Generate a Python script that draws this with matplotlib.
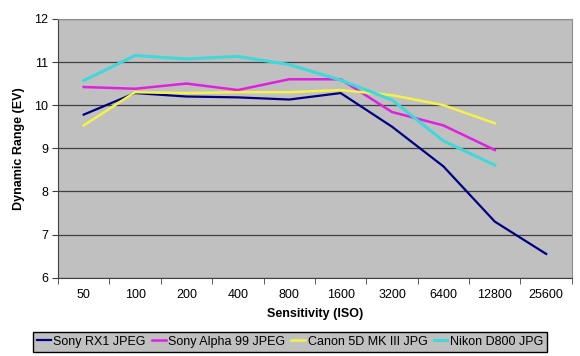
import numpy as np
import matplotlib
matplotlib.use("Agg")
import matplotlib.pyplot as plt

plt.rcParams["font.family"] = ["Liberation Sans", "DejaVu Sans"]

ISO = ["50", "100", "200", "400", "800", "1600", "3200", "6400", "12800", "25600"]
SERIES = ["Sony RX1 JPEG", "Sony Alpha 99 JPEG", "Canon 5D MK III JPG", "Nikon D800 JPG"]
rx1     = [9.78, 10.28, 10.20, 10.18, 10.13, 10.28, 9.50, 8.58, 7.30, 6.55]
alpha99 = [10.42, 10.38, 10.50, 10.35, 10.60, 10.60, 9.84, 9.53, 8.96]
canon   = [9.53, 10.30, 10.28, 10.30, 10.30, 10.35, 10.23, 10.00, 9.58]
nikon   = [10.57, 11.15, 11.07, 11.13, 10.94, 10.58, 10.12, 9.17, 8.61]
COLORS = ["#000080", "#e020e0", "#f2f24a", "#40d8d8"]
WIDTHS = [1.6, 1.8, 1.8, 2.2]

fig = plt.figure(figsize=(5.8, 3.56), dpi=100)
ax = fig.add_axes([0.1, 0.22, 0.886, 0.727])
ax.set_facecolor("#c0c0c0")

for vals, lab, c, lw in zip([rx1, alpha99, canon, nikon], SERIES, COLORS, WIDTHS):
    ax.plot(np.arange(len(vals)), vals, color=c, lw=lw, label=lab, zorder=3)

ax.set_xlim(-0.5, len(ISO) - 0.5)
ax.set_ylim(6, 12)
ax.set_yticks(range(6, 13))
ax.yaxis.grid(True, color="#404040", lw=0.9)
ax.set_axisbelow(True)
ax.set_xticks(np.arange(len(ISO)))
ax.set_xticklabels(ISO)
ax.set_xticks(np.arange(len(ISO) + 1) - 0.5, minor=True)
ax.tick_params(axis="x", which="major", length=0, pad=8, labelsize=9)
ax.tick_params(axis="x", which="minor", length=4, color="#404040")
ax.tick_params(axis="y", length=4, color="#404040", labelsize=9, pad=3)

for s in ["left", "bottom"]:
    ax.spines[s].set_color("#404040")
for s in ["top", "right"]:
    ax.spines[s].set_color("#909090")

ax.set_xlabel("Sensitivity (ISO)", fontweight="bold", fontsize=9, labelpad=5)
ax.set_ylabel("Dynamic Range (EV)", fontweight="bold", fontsize=9, labelpad=7)

leg = fig.legend(loc="center", bbox_to_anchor=(0.5, 0.04), ncol=4, fontsize=9,
                 frameon=True, fancybox=False, handlelength=1.1, handletextpad=0.2,
                 columnspacing=0.5, borderpad=0.3)
leg.get_frame().set_facecolor("#c0c0c0")
leg.get_frame().set_edgecolor("#000000")
leg.get_frame().set_alpha(1)

fig.savefig("out.png", dpi=100)
